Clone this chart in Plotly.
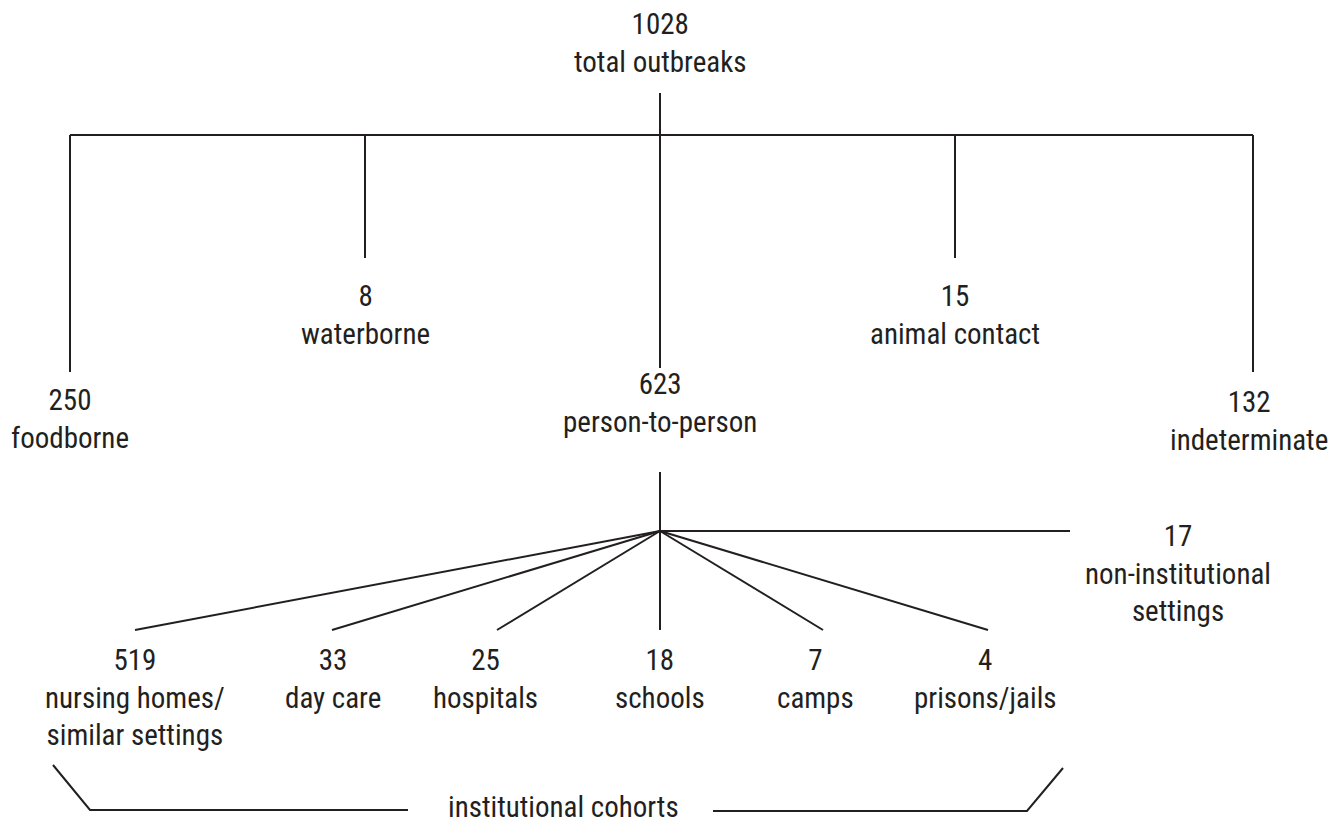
import plotly.graph_objects as go

# ---------------- data ----------------
total_count = 1028
total_label = "total outbreaks"

route_labels = ["foodborne", "waterborne", "person-to-person", "animal contact", "indeterminate"]
route_counts = [250, 8, 623, 15, 132]

setting_labels = ["nursing homes/<br>similar settings", "day care", "hospitals", "schools", "camps", "prisons/jails"]
setting_counts = [519, 33, 25, 18, 7, 4]

noninst_label = "non-institutional<br>settings"
noninst_count = 17

group_label = "institutional cohorts"

# ---------------- layout (pixel positions of the diagram) ----------------
W, H = 1332, 825
top_xy = (660, 43)
bar_y = 135
top_stem_y = 93
route_x = [70, 365, 660, 955, 1253]
route_line_end = [372, 258, 368, 258, 372]
route_text_xy = [(70, 419), (365, 315), (660, 403), (955, 315), (1249, 421)]

hub = (660, 531)
hub_stem_top = 472
hub_stem_bottom = 622
setting_line_end_x = [135, 332, 497, 660, 823, 988]
setting_line_end_y = 630
setting_text_x = [135, 333, 485, 660, 815, 985]
setting_text_y = [697, 679, 679, 679, 679, 679]
noninst_line_end_x = 1070
noninst_text_xy = (1178, 573)

bracket_left = ([53, 90, 408], [765, 810, 810])
bracket_right = ([713, 1027, 1063], [811, 811, 768])
group_text_xy = (563, 807)

LINE = dict(color="#231f20", width=2)
FONT = dict(family="Roboto Condensed, Arial Narrow, sans-serif", size=29, color="#231f20")

fig = go.Figure()

def seg(xs, ys):
    fig.add_trace(go.Scatter(x=xs, y=ys, mode="lines", line=LINE, hoverinfo="skip", showlegend=False))

# top level
seg([top_xy[0], top_xy[0]], [top_stem_y, bar_y])
seg([route_x[0], route_x[-1]], [bar_y, bar_y])
for x, ye in zip(route_x, route_line_end):
    seg([x, x], [bar_y, ye])

# person-to-person breakdown
seg([hub[0], hub[0]], [hub_stem_top, hub_stem_bottom])
seg([hub[0], noninst_line_end_x], [hub[1], hub[1]])
for x in setting_line_end_x:
    seg([hub[0], x], [hub[1], setting_line_end_y])

# bracket
seg(*bracket_left)
seg(*bracket_right)

annotations = []
def txt(x, y, s):
    annotations.append(dict(x=x, y=y, text=s, showarrow=False, xanchor="center", yanchor="middle",
                            align="center", font=FONT, xref="x", yref="y"))

txt(top_xy[0], top_xy[1], f"{total_count}<br>{total_label}")
for (x, y), c, l in zip(route_text_xy, route_counts, route_labels):
    txt(x, y, f"{c}<br>{l}")
for x, y, c, l in zip(setting_text_x, setting_text_y, setting_counts, setting_labels):
    txt(x, y, f"{c}<br>{l}")
txt(noninst_text_xy[0], noninst_text_xy[1], f"{noninst_count}<br>{noninst_label}")
txt(group_text_xy[0], group_text_xy[1], group_label)

fig.update_layout(
    width=W, height=H,
    margin=dict(l=0, r=0, t=0, b=0),
    paper_bgcolor="white", plot_bgcolor="white",
    xaxis=dict(range=[0, W], visible=False, fixedrange=True),
    yaxis=dict(range=[H, 0], visible=False, fixedrange=True),
    annotations=annotations,
    showlegend=False,
)

fig.write_html("out.html", config={"displayModeBar": False},
               post_script="document.body.style.margin='0';document.body.style.overflow='hidden';")
